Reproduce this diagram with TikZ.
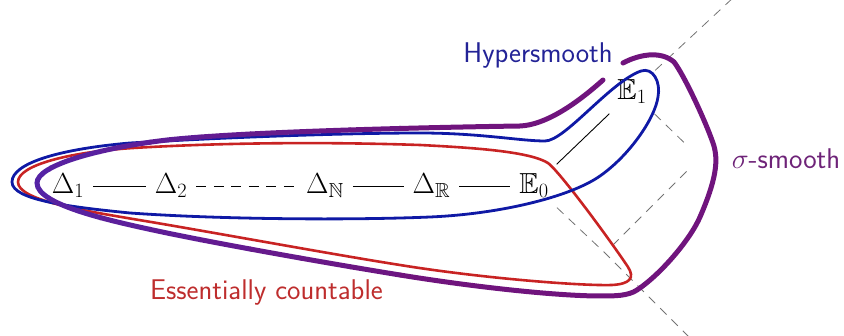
\RequirePackage{fix-cm}
\documentclass[tikz,border=0pt]{standalone}
\usepackage{amssymb}
\definecolor{hblue}{RGB}{15,25,165}
\definecolor{hbluetext}{RGB}{35,35,150}
\definecolor{ecred}{RGB}{200,35,35}
\definecolor{ecredtext}{RGB}{190,45,45}
\definecolor{purL}{RGB}{85,35,165}
\definecolor{purR}{RGB}{112,20,125}
\definecolor{sigtext}{RGB}{110,35,120}
\tikzset{
  mnode/.style={inner sep=9pt, text height=20pt, text depth=5pt, font=\fontsize{29}{34}\selectfont},
  enode/.style={mnode, minimum width=48pt},
  lbl/.style={font=\sffamily\fontsize{28.5}{34}\selectfont, inner sep=0pt, anchor=base},
  conn/.style={line width=0.9pt, black},
  dconn/.style={conn, dash pattern=on 10pt off 7.5pt},
  gridline/.style={line width=0.8pt, black!55, dash pattern=on 9pt off 7pt},
  bluecurve/.style={line width=2.8pt, hblue},
  redcurve/.style={line width=2.6pt, ecred},
}
\begin{document}
\begin{tikzpicture}[x=1pt,y=-1pt]
\useasboundingbox (0,0) rectangle (844,336);

% nodes
\node[mnode] (d1) at (68,186) {$\Delta_1$};
\node[mnode] (d2) at (171,186) {$\Delta_2$};
\node[mnode] (dN) at (325,186) {$\Delta_{\mathbb{N}}$};
\node[mnode] (dR) at (431.5,186) {$\Delta_{\mathbb{R}}$};
\node[enode] (e0) at (534,186) {$\mathbb{E}_0$};
\node[enode] (e1) at (632,92) {$\mathbb{E}_1$};
\coordinate (r) at (700,158);
\coordinate (b) at (605,253);
\coordinate (top) at (735,-4);
\coordinate (bot) at (692,340);

% dashed grid
\draw[gridline] (e1) -- (top);
\draw[gridline, shorten >=16pt] (e1) -- (r);
\draw[gridline, shorten <=19pt, shorten >=6pt] (r) -- (b);
\draw[gridline] (e0) -- (b) -- (bot);

% connectors
\draw[conn] (d1) -- (d2);
\draw[dconn] (d2) -- (dN);
\draw[conn] (dN) -- (dR);
\draw[conn] (dR) -- (e0);
\draw[conn] (e0) -- (e1);

% red: essentially countable
\draw[redcurve] (18,182)
  .. controls (18,165) and (70,152) .. (133,148)
  .. controls (200,144) and (300,141) .. (420,145)
  .. controls (480,148) and (530,152) .. (548,163)
  .. controls (560,172) and (610,240) .. (628,267)
  .. controls (635,278) and (630,284) .. (612,285)
  .. controls (580,286) and (480,278) .. (400,265)
  .. controls (330,254) and (200,230) .. (133,219)
  .. controls (80,210) and (18,200) .. (18,182) -- cycle;

% blue: hypersmooth
\draw[bluecurve] (12,182)
  .. controls (12,163) and (60,149) .. (130,143)
  .. controls (250,136) and (360,133) .. (420,133)
  .. controls (480,133) and (520,141) .. (545,141)
  .. controls (565,141) and (610,82) .. (641,71)
  .. controls (653,67) and (661,82) .. (658,97)
  .. controls (655,118) and (630,155) .. (600,176)
  .. controls (570,197) and (500,214) .. (430,217)
  .. controls (360,220) and (230,220) .. (130,213)
  .. controls (70,207) and (12,200) .. (12,182) -- cycle;

% purple: sigma-smooth (open, gap at label)
\path[save path=\purplep] (623,63)
  .. controls (638,55) and (660,50) .. (674,62)
  .. controls (684,75) and (705,120) .. (713,143)
  .. controls (719,160) and (716,180) .. (700,217)
  .. controls (690,240) and (660,275) .. (637,290)
  .. controls (628,296) and (615,296) .. (600,296)
  .. controls (560,296) and (480,288) .. (400,275)
  .. controls (320,262) and (220,244) .. (167,233)
  .. controls (110,221) and (37,205) .. (37,183)
  .. controls (37,165) and (100,148) .. (167,140)
  .. controls (250,131) and (450,127) .. (520,126)
  .. controls (545,125) and (575,105) .. (603,80);
\foreach \i in {0,...,8}{
  \pgfmathtruncatemacro\pct{\i*100/8}
  \begin{scope}
    \clip (\i*50-0.5,-20) rectangle (\i*50+50.5,360);
    \draw[line width=5pt, line cap=round, color=purR!\pct!purL, use path=\purplep];
  \end{scope}
}
\begin{scope}
  \clip (450,-20) rectangle (900,360);
  \draw[line width=5pt, line cap=round, color=purR, use path=\purplep];
\end{scope}

% labels
\node[lbl, text=hbluetext] (hs) at (538,63) {Hypersmooth};
\node[lbl, text=ecredtext] (ec) at (266.5,300) {Essentially countable};
\node[lbl, text=sigtext] (ss) at (786,169) {$\sigma$-smooth};
\end{tikzpicture}
\end{document}
